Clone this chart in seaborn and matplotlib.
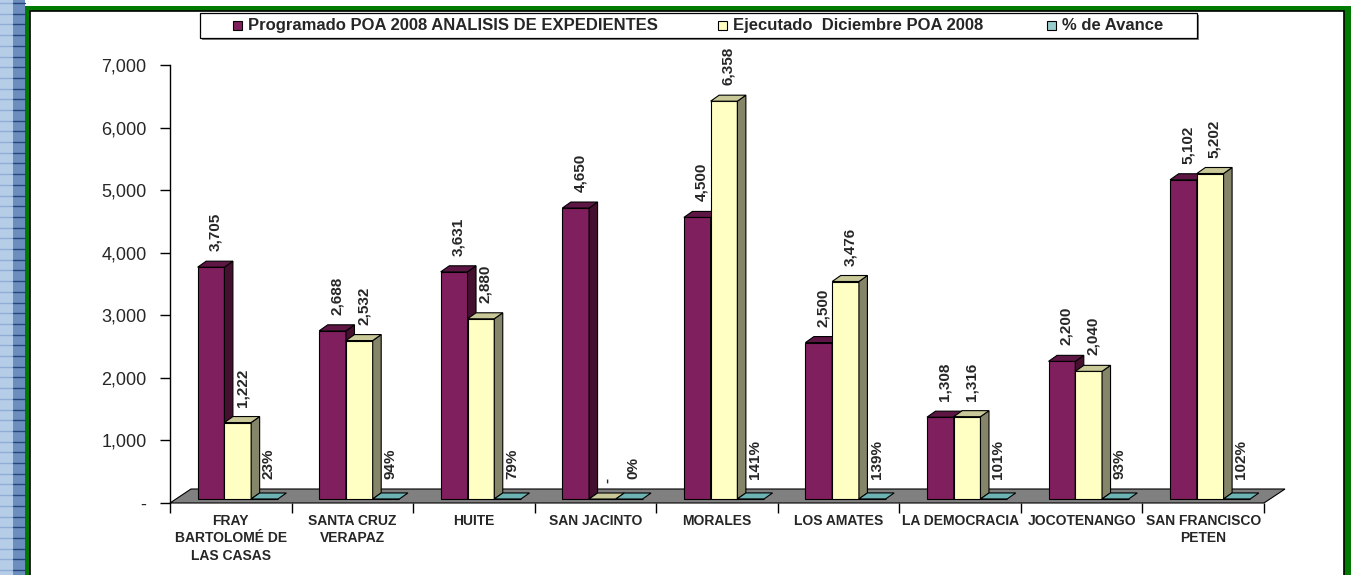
import matplotlib
matplotlib.use("Agg")
import matplotlib.pyplot as plt
import seaborn as sns
import pandas as pd
from matplotlib.patches import Polygon, Rectangle
from matplotlib.ticker import FuncFormatter, FixedLocator

# ---------------- data ----------------
categories = ["FRAY\nBARTOLOMÉ DE\nLAS CASAS", "SANTA CRUZ\nVERAPAZ", "HUITE",
              "SAN JACINTO", "MORALES", "LOS AMATES", "LA DEMOCRACIA",
              "JOCOTENANGO", "SAN FRANCISCO\nPETEN"]
programado = [3705, 2688, 3631, 4650, 4500, 2500, 1308, 2200, 5102]
ejecutado = [1222, 2532, 2880, 0, 6358, 3476, 1316, 2040, 5202]
avance_pct = [23, 94, 79, 0, 141, 139, 101, 93, 102]
series_names = ["Programado POA 2008 ANALISIS DE EXPEDIENTES",
                "Ejecutado  Diciembre POA 2008",
                "% de Avance"]
y_ticks = [0, 1000, 2000, 3000, 4000, 5000, 6000, 7000]

rows = []
for c, p, e, a in zip(categories, programado, ejecutado, avance_pct):
    rows.append((c, series_names[0], p))
    rows.append((c, series_names[1], e))
    rows.append((c, series_names[2], a / 100.0))
df = pd.DataFrame(rows, columns=["cat", "serie", "value"])

front_cols = ["#801F5E", "#FFFFC4", "#CCFFFF"]
side_cols = ["#45102F", "#85856A", "#5E9A9A"]
top_cols = ["#5E1645", "#C8C898", "#6DB3B3"]
legend_cols = ["#801F5E", "#FFFFC0", "#99CCCC"]

sns.set_style("white")
plt.rcParams["font.family"] = ["Liberation Sans", "DejaVu Sans"]

W, H = 1351, 575
fig = plt.figure(figsize=(W / 100, H / 100), dpi=100)
fig.patch.set_facecolor("white")

# overlay axes in pixel coordinates (frame, left strip, legend)
ov = fig.add_axes([0, 0, 1, 1], zorder=0)
ov.set_xlim(0, W)
ov.set_ylim(H, 0)
ov.axis("off")

# left decorative strip
ov.add_patch(Rectangle((0, 0), 13, H, facecolor="#B6CDE8", edgecolor="none"))
ov.add_patch(Rectangle((13, 0), 12, H, facecolor="#6C8EBF", edgecolor="none"))
yy = 3.0
while yy < H:
    ov.plot([0, 13], [yy, yy], color="#8FAED6", lw=1)
    ov.plot([13, 25], [yy, yy], color="#24457A", lw=1)
    yy += 10.7
# green frame
ov.add_patch(Rectangle((25, 6), 5, H, facecolor="#007A00", edgecolor="none"))
ov.add_patch(Rectangle((25, 6), W - 25, 5, facecolor="#007A00", edgecolor="none"))
ov.add_patch(Rectangle((1344, 6), 7, H, facecolor="#007A00", edgecolor="none"))
ov.add_patch(Rectangle((30, 11), 1314, H, facecolor="white", edgecolor="black", lw=1.2))

# legend (manual, pixel coords)
ov.add_patch(Rectangle((202, 15), 997, 25, facecolor="#808080", edgecolor="none"))
ov.add_patch(Rectangle((200, 13), 997, 25, facecolor="white", edgecolor="black", lw=0.9))
leg_x = [233, 718, 1047]
for lx, col, name in zip(leg_x, legend_cols, series_names):
    ov.add_patch(Rectangle((lx, 21), 9, 9, facecolor=col, edgecolor="black", lw=0.8))
    ov.text(lx + 15, 25.5, name, fontsize=12, fontweight="bold", ha="left", va="center")

# ---------------- main chart ----------------
ax = fig.add_axes([170 / W, (H - 503) / H, (1264 - 170) / W, (503 - 65) / H], zorder=2)
ax.set_facecolor("none")

sns.barplot(data=df, x="cat", y="value", hue="serie", order=categories,
            hue_order=series_names, palette=front_cols, saturation=1,
            width=0.66, edgecolor="black", linewidth=0.8, errorbar=None,
            legend=False, ax=ax)

ax.set_xlim(-0.5, len(categories) - 0.5)
ax.set_ylim(0, 7000)

px_x = 1.0 / 121.55          # x data units per pixel
px_y = 7000.0 / 438.0        # y data units per pixel
sx, sy = 7 * px_x, 4 * px_y        # bar placement offset on the floor
ddx, ddy = 8.5 * px_x, 6 * px_y    # bar depth
fdx, fdy = 21 * px_x, 14 * px_y    # floor depth

# floor
floor = Polygon([(-0.5, 0), (len(categories) - 0.5, 0),
                 (len(categories) - 0.5 + fdx, fdy), (-0.5 + fdx, fdy)],
                closed=True, facecolor="#808080", edgecolor="black", lw=0.8,
                zorder=1, clip_on=False)
ax.add_patch(floor)

label_vals = [programado, ejecutado, avance_pct]
for si, cont in enumerate(ax.containers):
    for j, bar in enumerate(cont):
        x0 = bar.get_x() + sx
        w = bar.get_width()
        h = bar.get_height()
        bar.set_x(x0)
        bar.set_y(sy)
        bar.set_zorder(3 + si)
        bar.set_clip_on(False)
        top = sy + h
        side = Polygon([(x0 + w, sy), (x0 + w + ddx, sy + ddy),
                        (x0 + w + ddx, top + ddy), (x0 + w, top)], closed=True,
                       facecolor=side_cols[si], edgecolor="black", lw=0.8,
                       zorder=3 + si, clip_on=False)
        topf = Polygon([(x0, top), (x0 + w, top), (x0 + w + ddx, top + ddy),
                        (x0 + ddx, top + ddy)], closed=True,
                       facecolor=top_cols[si], edgecolor="black", lw=0.8,
                       zorder=3 + si + 0.01, clip_on=False)
        if si < 2:
            ax.add_patch(side)
        ax.add_patch(topf)
        v = label_vals[si][j]
        cx = x0 + (w + ddx) / 2
        if si < 2:
            txt = "-" if v == 0 else f"{v:,}"
            off = 10
        else:
            txt = f"{v}%"
            off = 14
        ax.annotate(txt, (cx, top + ddy), xytext=(0, off), textcoords="offset pixels",
                    rotation=90, ha="center", va="bottom", fontsize=11,
                    fontweight="bold", zorder=10, annotation_clip=False)

# axes styling
for s in ["top", "right"]:
    ax.spines[s].set_visible(False)
ax.spines["left"].set_color("black")
ax.spines["left"].set_linewidth(1)
ax.spines["bottom"].set_visible(False)
ax.yaxis.set_major_locator(FixedLocator(y_ticks))
ax.yaxis.set_major_formatter(FuncFormatter(lambda v, p: "-" if v == 0 else f"{int(v):,}"))
ax.tick_params(axis="y", which="major", length=7, width=1, color="black",
               direction="out", pad=10, labelsize=13, left=True)
ax.set_xticks(range(len(categories)))
ax.set_xticklabels(categories, fontsize=10, fontweight="bold", linespacing=1.3)
ax.xaxis.set_minor_locator(FixedLocator([i - 0.5 for i in range(len(categories) + 1)]))
ax.tick_params(axis="x", which="major", length=0, pad=8)
ax.tick_params(axis="x", which="minor", length=7, width=1, color="black",
               direction="out", bottom=True)
ax.set_xlabel("")
ax.set_ylabel("")
ax.grid(False)

fig.savefig("out.png", dpi=100)
